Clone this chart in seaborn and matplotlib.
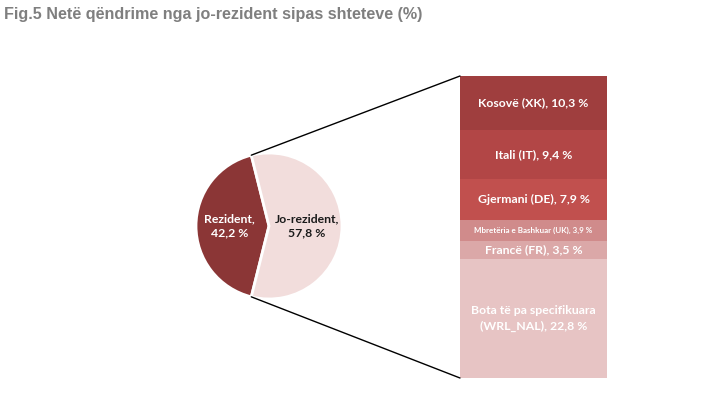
import numpy as np
import matplotlib
matplotlib.use("Agg")
import matplotlib.pyplot as plt
import seaborn as sns
from matplotlib.patches import ConnectionPatch

sns.set_theme(style="white")
plt.rcParams['font.family'] = ['Lato', 'DejaVu Sans']

# data
pie_labels = ['Rezident,\n42,2 %', 'Jo-rezident,\n57,8 %']
pie_values = [42.2, 57.8]
pie_colors = ['#8B3636', '#F2DDDC']

countries = ['Kosovë (XK), 10,3 %', 'Itali (IT), 9,4 %', 'Gjermani (DE), 7,9 %',
             'Mbretëria e Bashkuar (UK), 3,9 %', 'Francë (FR), 3,5 %',
             'Bota të pa specifikuara\n(WRL_NAL), 22,8 %']
country_values = [10.3, 9.4, 7.9, 3.9, 3.5, 22.8]
country_colors = ['#9F3E3E', '#B24646', '#C1504E', '#D08B8B', '#DBA8A8', '#E7C4C4']
label_sizes = [8.8, 8.8, 8.8, 5.8, 8.8, 8.8]

W, H = 724, 397
fig = plt.figure(figsize=(W / 100, H / 100), dpi=100)

fig.text(4 / W, 1 - 14 / H, 'Fig.5 Netë qëndrime nga jo-rezident sipas shteteve (%)',
         fontsize=11.6, fontweight='bold', color='#7F7F7F', va='center', ha='left',
         family=['Liberation Sans', 'DejaVu Sans'])

# pie
cx, cy, r = 269, 226, 73
half = r * 1.111
ax_pie = fig.add_axes([(cx - half) / W, (H - cy - half) / H, 2 * half / W, 2 * half / H])
start = 180 - pie_values[0] * 3.6 / 2
wedges, _ = ax_pie.pie(pie_values, colors=pie_colors, startangle=start, counterclock=True,
                       wedgeprops=dict(edgecolor='white', linewidth=2))
ax_pie.set_xlim(-1.111, 1.111)
ax_pie.set_ylim(-1.111, 1.111)
ax_pie.set_aspect('equal')
ax_pie.axis('off')
ax_pie.text(-0.54, 0.0, pie_labels[0], ha='center', va='center', fontsize=8.8,
            fontweight='bold', color='white', linespacing=1.3)
ax_pie.text(0.52, 0.0, pie_labels[1], ha='center', va='center', fontsize=8.8,
            fontweight='bold', color='#1a1a1a', linespacing=1.3)

# stacked bar
bx0, bx1, by0, by1 = 460, 607, 76, 378
ax_bar = fig.add_axes([bx0 / W, (H - by1) / H, (bx1 - bx0) / W, (by1 - by0) / H])
total = sum(country_values)
bottoms = np.concatenate([[0], np.cumsum(country_values)[:-1]])
for val, bot, col, lab, fs in zip(country_values, bottoms, country_colors, countries, label_sizes):
    ax_bar.bar(0, val, bottom=bot, width=1, color=col, edgecolor='none')
    ax_bar.text(0, bot + val / 2, lab, ha='center', va='center', fontsize=fs,
                fontweight='bold', color='white', linespacing=1.5)
ax_bar.set_xlim(-0.5, 0.5)
ax_bar.set_ylim(total, 0)
ax_bar.axis('off')

# connector lines
t1 = np.deg2rad(start)
t2 = np.deg2rad(start + pie_values[0] * 3.6)
for ang, yb in [(t1, 0), (t2, total)]:
    con = ConnectionPatch(xyA=(np.cos(ang), np.sin(ang)), coordsA=ax_pie.transData,
                          xyB=(-0.5, yb), coordsB=ax_bar.transData,
                          color='black', linewidth=1)
    fig.add_artist(con)

fig.savefig('out.png', dpi=100, facecolor='white')
